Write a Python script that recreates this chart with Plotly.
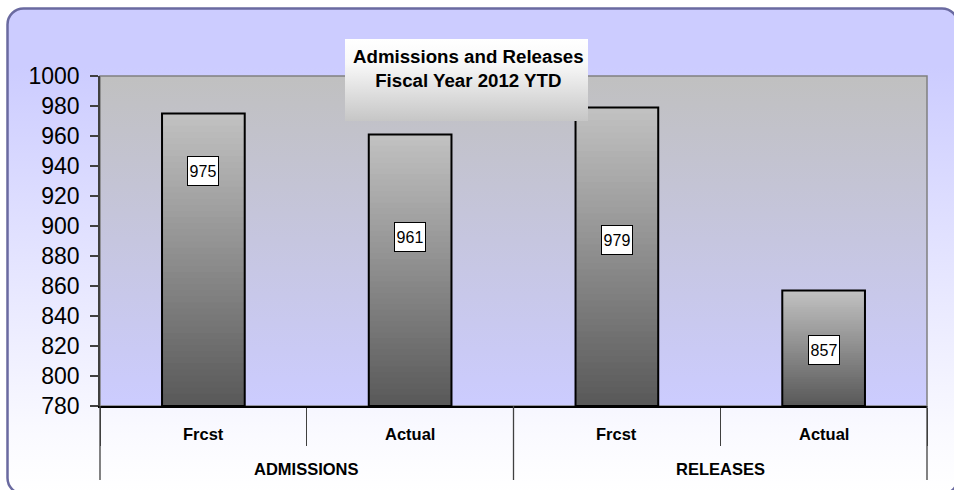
import base64
import plotly.graph_objects as go

# ---------------- data ----------------
groups = ["ADMISSIONS", "ADMISSIONS", "RELEASES", "RELEASES"]
kinds = ["Frcst", "Actual", "Frcst", "Actual"]
values = [975, 961, 979, 857]
title_lines = ["Admissions and Releases", "Fiscal Year 2012 YTD"]
y_min, y_max, y_step = 780, 1000, 20

# ---------------- layout geometry / style ----------------
W, H = 954, 490
ML, MR, MT, MB = 100, 27, 76, 84
PW, PH = W - ML - MR, H - MT - MB
label_y = [937, 893, 890.5, 817.5]   # manual label placement (as in original)
FONT = "Liberation Sans, Arial, sans-serif"
AX_COL = "#404040"


def svg_uri(svg):
    return "data:image/svg+xml;base64," + base64.b64encode(svg.encode()).decode()


bg_svg = f'''<svg xmlns="http://www.w3.org/2000/svg" width="{W}" height="{H}">
<defs><linearGradient id="g" x1="0" y1="0" x2="0" y2="1">
<stop offset="0" stop-color="#ccccff"/><stop offset="0.12" stop-color="#ccccff"/>
<stop offset="0.88" stop-color="#fafaff"/><stop offset="1" stop-color="#ffffff"/></linearGradient></defs>
<rect x="7.5" y="8.5" width="950.5" height="485.5" rx="16" ry="16" fill="url(#g)" stroke="#6a6aa0" stroke-width="2.5"/>
</svg>'''

plot_svg = f'''<svg xmlns="http://www.w3.org/2000/svg" width="{PW}" height="{PH}">
<defs><linearGradient id="p" x1="0" y1="0" x2="0" y2="1">
<stop offset="0" stop-color="#c0c0c0"/><stop offset="1" stop-color="#ccccff"/></linearGradient></defs>
<rect x="0" y="0" width="{PW}" height="{PH}" fill="url(#p)"/>
</svg>'''

TB_X0, TB_X1, TB_Y0, TB_Y1 = 345, 588, 39, 121
title_svg = f'''<svg xmlns="http://www.w3.org/2000/svg" width="{TB_X1-TB_X0}" height="{TB_Y1-TB_Y0}">
<defs><linearGradient id="t" x1="0" y1="0" x2="0" y2="1">
<stop offset="0" stop-color="#ffffff"/><stop offset="0.3" stop-color="#f8f8f8"/>
<stop offset="1" stop-color="#c6c6c6"/></linearGradient></defs>
<rect x="0" y="0" width="{TB_X1-TB_X0}" height="{TB_Y1-TB_Y0}" fill="url(#t)"/>
</svg>'''


def px_to_paper_x(px):
    return (px - ML) / PW


def px_to_paper_y(py):
    return (MT + PH - py) / PH


fig = go.Figure()

# gradient bars: overlaid slices, each from a fraction of the bar up to its top
N = 48
c_bot, c_top = (0x58, 0x58, 0x58), (0xc2, 0xc2, 0xc2)
for k in range(N):
    f = k / N
    col = tuple(round(c_bot[j] + (c_top[j] - c_bot[j]) * (k + 0.5) / N) for j in range(3))
    bases = [y_min + (v - y_min) * f for v in values]
    fig.add_trace(go.Bar(
        x=[groups, kinds], y=[v - b for v, b in zip(values, bases)], base=bases,
        marker=dict(color="rgb(%d,%d,%d)" % col, line=dict(width=0)),
        showlegend=False, hoverinfo="skip"))

# outline
fig.add_trace(go.Bar(
    x=[groups, kinds], y=[v - y_min for v in values], base=[y_min] * len(values),
    marker=dict(color="rgba(0,0,0,0)", line=dict(color="black", width=2)),
    showlegend=False, hoverinfo="skip"))

n = len(values)
annotations = []
# value labels
for i, (v, ly) in enumerate(zip(values, label_y)):
    annotations.append(dict(
        xref="paper", yref="y", x=(i + 0.5) / n, y=ly, text=str(v), showarrow=False,
        font=dict(family=FONT, size=16, color="black"),
        bgcolor="white", bordercolor="black", borderwidth=1, borderpad=1,
        width=28, height=26, xanchor="center", yanchor="middle"))

# category labels (two levels)
for i, k in enumerate(kinds):
    annotations.append(dict(
        xref="paper", yref="paper", x=(i + 0.5) / n, y=px_to_paper_y(433.5),
        text="<b>%s</b>" % k, showarrow=False, xanchor="center", yanchor="middle",
        font=dict(family=FONT, size=16.5, color="black")))

# group boundaries from data
bounds = [0] + [i for i in range(1, n) if groups[i] != groups[i - 1]] + [n]
for a, b in zip(bounds[:-1], bounds[1:]):
    annotations.append(dict(
        xref="paper", yref="paper", x=(a + b) / 2 / n, y=px_to_paper_y(468.5),
        text="<b>%s</b>" % groups[a], showarrow=False, xanchor="center", yanchor="middle",
        font=dict(family=FONT, size=16.5, color="black")))

annotations.append(dict(
    xref="paper", yref="paper", x=px_to_paper_x(468), y=px_to_paper_y(68.5),
    text="<b>" + "<br>".join(title_lines) + "</b>", showarrow=False,
    font=dict(family=FONT, size=18.7, color="black"), align="center",
    xanchor="center", yanchor="middle"))

shapes = [dict(type="rect", xref="paper", yref="paper", x0=0, x1=1, y0=0, y1=1,
               line=dict(color="#808080", width=1.5), fillcolor="rgba(0,0,0,0)",
               layer="below")]
for bd in bounds:
    shapes.append(dict(type="line", xref="paper", yref="paper",
                       x0=bd / n, x1=bd / n, y0=0, y1=px_to_paper_y(480),
                       line=dict(color=AX_COL, width=1.3)))

fig.update_layout(
    width=W, height=H, autosize=False,
    margin=dict(l=ML, r=MR, t=MT, b=MB, pad=0),
    paper_bgcolor="white", plot_bgcolor="rgba(0,0,0,0)",
    barmode="overlay", bargap=0.6,
    font=dict(family=FONT, color="black"),
    annotations=annotations, shapes=shapes,
    images=[
        dict(source=svg_uri(bg_svg), xref="paper", yref="paper",
             x=px_to_paper_x(0), y=px_to_paper_y(0), sizex=W / PW, sizey=H / PH,
             xanchor="left", yanchor="top", sizing="stretch", layer="below"),
        dict(source=svg_uri(plot_svg), xref="paper", yref="paper",
             x=0, y=1, sizex=1, sizey=1,
             xanchor="left", yanchor="top", sizing="stretch", layer="below"),
        dict(source=svg_uri(title_svg), xref="paper", yref="paper",
             x=px_to_paper_x(TB_X0), y=px_to_paper_y(TB_Y0),
             sizex=(TB_X1 - TB_X0) / PW, sizey=(TB_Y1 - TB_Y0) / PH,
             xanchor="left", yanchor="top", sizing="stretch", layer="above"),
    ],
)

fig.update_yaxes(range=[y_min, y_max], dtick=y_step, tick0=y_min,
                 showgrid=False, zeroline=False,
                 ticks="outside", ticklen=8, tickwidth=1.5, tickcolor=AX_COL,
                 showline=True, linecolor=AX_COL, linewidth=1.5, ticklabelstandoff=6,
                 tickfont=dict(family=FONT, size=23, color="black"))
fig.update_xaxes(type="multicategory", showgrid=False, showticklabels=False,
                 showdividers=False,
                 ticks="outside", ticklen=38, tickwidth=1.3, tickcolor=AX_COL,
                 showline=True, linecolor="black", linewidth=2)

fig.write_html("out.html", config={"displayModeBar": False},
               post_script="document.body.style.margin='0px';")
